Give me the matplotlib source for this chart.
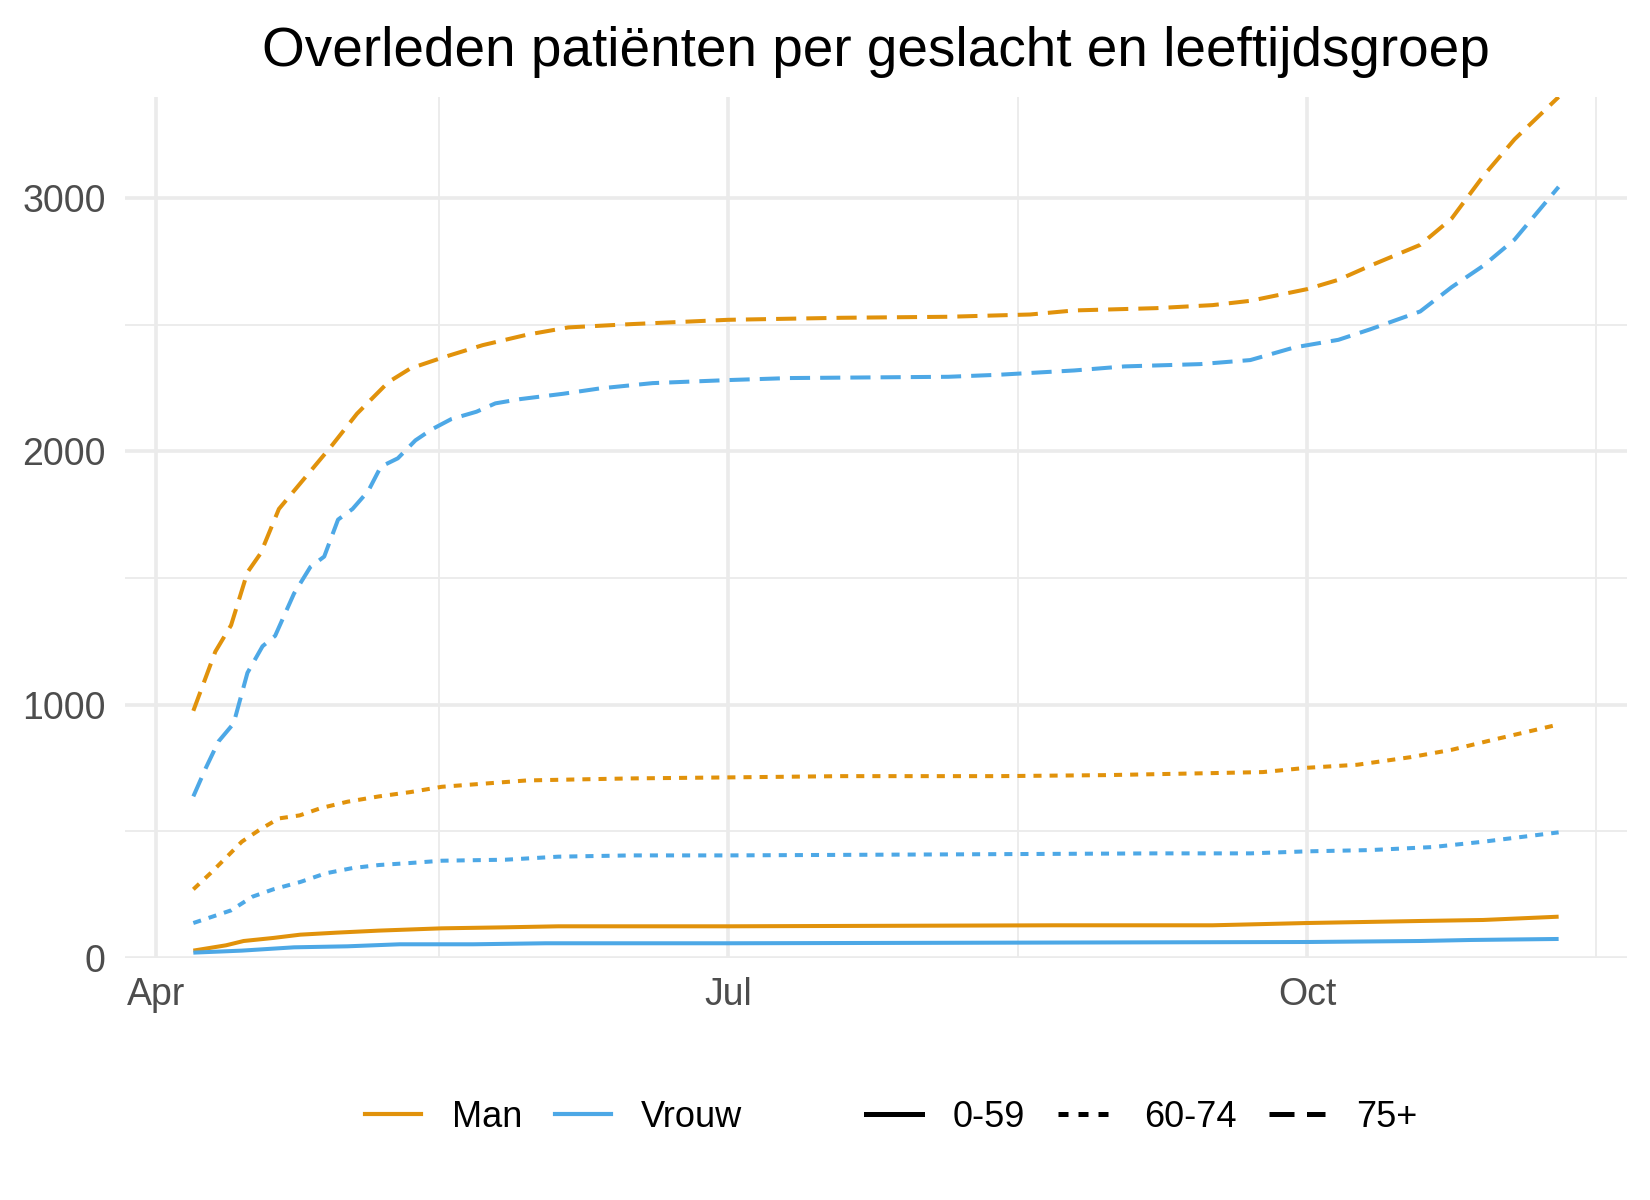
import pandas as pd
import numpy as np
import matplotlib.pyplot as plt
from matplotlib.lines import Line2D

plt.rcParams['font.family'] = ['Liberation Sans', 'DejaVu Sans']

start = pd.Timestamp('2020-04-01')

# days since 1 April 2020, cumulative deaths
man_75_days = [6, 9.5, 12, 14.6, 16.7, 19.6, 23.8, 28, 32, 37, 40.5, 45.5, 52, 59, 65.6, 75.6, 91,
               109, 126, 139, 146, 159, 168, 174, 183, 188, 193, 201, 206, 211, 216, 223]
man_75 = [976, 1210, 1314, 1523, 1598, 1773, 1898, 2023, 2149, 2274, 2328, 2370, 2420, 2461, 2490, 2503, 2520,
          2528, 2532, 2541, 2557, 2566, 2578, 2595, 2641, 2678, 2733, 2816, 2920, 3087, 3233, 3400]

vrouw_75_days = [6, 8, 10, 12.4, 14.6, 17, 19, 22, 24.6, 26.8, 29, 31.3, 33.8, 35.8, 38.5, 41.3, 43.8, 47, 51,
                 54, 58, 64.8, 70.6, 79, 91, 100.8, 126, 134, 146, 154, 166, 174, 181, 188, 193, 201, 206, 211,
                 216, 223]
vrouw_75 = [638, 751, 855, 926, 1126, 1231, 1272, 1439, 1544, 1585, 1731, 1773, 1844, 1940, 1973, 2044, 2086,
            2128, 2157, 2190, 2207, 2228, 2249, 2270, 2282, 2290, 2295, 2303, 2320, 2336, 2345, 2361, 2411,
            2441, 2482, 2553, 2649, 2733, 2837, 3045]

man_60_days = [6, 8.7, 11.2, 13.7, 16.7, 19.6, 22.9, 26.3, 30.5, 35.5, 40.5, 45.5, 52, 59, 67, 75.6, 91, 109,
               134, 151, 168, 176, 183, 191, 199.5, 206, 213, 223]
man_60 = [271, 334, 396, 459, 509, 551, 563, 592, 617, 638, 655, 676, 688, 701, 705, 709, 713, 718,
          718, 722, 730, 734, 751, 763, 793, 822, 864, 922]

vrouw_60_days = [6, 9.5, 12, 15.4, 18.7, 23, 27, 31.3, 35.5, 40.5, 45.5, 55.6, 64, 75.6, 91, 126, 159, 174,
                 183, 193, 203, 211, 223]
vrouw_60 = [138, 167, 188, 242, 271, 300, 334, 355, 367, 375, 384, 388, 400, 405, 405, 409, 413, 413,
            421, 426, 438, 459, 496]

man_0_days = [6, 11.2, 14, 18.7, 23, 28.8, 35.5, 45.5, 55.6, 64, 91, 143, 168, 183, 201, 211, 223]
man_0 = [29, 50, 67, 79, 92, 100, 108, 117, 121, 125, 125, 129, 129, 138, 146, 150, 163]

vrouw_0_days = [6, 13.7, 22, 30.5, 38.8, 50.5, 62, 91, 183, 201, 209, 223]
vrouw_0 = [21, 29, 42, 46, 54, 54, 58, 58, 63, 67, 71, 75]

colors = {'Man': '#E1920B', 'Vrouw': '#4DA8E6'}
styles = {'0-59': '-', '60-74': (0, (2, 2)), '75+': (0, (5, 2.5))}

series = [
    ('Man', '75+', man_75_days, man_75),
    ('Vrouw', '75+', vrouw_75_days, vrouw_75),
    ('Man', '60-74', man_60_days, man_60),
    ('Vrouw', '60-74', vrouw_60_days, vrouw_60),
    ('Man', '0-59', man_0_days, man_0),
    ('Vrouw', '0-59', vrouw_0_days, vrouw_0),
]

fig = plt.figure(figsize=(16.5, 12), dpi=100)
ax = fig.add_axes([0.0758, 0.2017, 0.9102, 0.7175])

for sex, age, days, vals in series:
    dates = start + pd.to_timedelta(np.array(days), unit='D')
    ax.plot(dates, vals, color=colors[sex], linestyle=styles[age], linewidth=2.9,
            dash_capstyle='butt', solid_capstyle='butt')

first = start + pd.Timedelta(days=6)
last = start + pd.Timedelta(days=223)
pad = (last - first) * 0.05
ax.set_xlim(first - pad, last + pad)
ax.set_ylim(0, 3400)

major_x = pd.to_datetime(['2020-04-01', '2020-07-01', '2020-10-01'])
minor_x = pd.to_datetime(['2020-05-16', '2020-08-16', '2020-11-16'])
ax.set_xticks(major_x)
ax.set_xticklabels(['Apr', 'Jul', 'Oct'])
ax.set_xticks(minor_x, minor=True)
ax.set_yticks([0, 1000, 2000, 3000])
ax.set_yticks([500, 1500, 2500], minor=True)

ax.grid(which='major', color='#EBEBEB', linewidth=2.6)
ax.grid(which='minor', color='#EBEBEB', linewidth=1.3)
ax.set_axisbelow(True)
for s in ax.spines.values():
    s.set_visible(False)
ax.tick_params(which='both', length=0, labelsize=27, labelcolor='#4D4D4D')
ax.tick_params(axis='y', pad=14)
ax.tick_params(axis='x', pad=14)

ax.set_title('Overleden patiënten per geslacht en leeftijdsgroep', fontsize=39.5, pad=22)

h1 = [Line2D([], [], color=colors[k], linewidth=3) for k in ['Man', 'Vrouw']]
leg1 = fig.legend(h1, ['Man', 'Vrouw'], loc='center left', bbox_to_anchor=(365 / 1650, 0.069),
                  ncol=2, frameon=False, fontsize=26, handlelength=1.55, handletextpad=0.85,
                  columnspacing=0.9, borderpad=0, borderaxespad=0)
h2 = [Line2D([], [], color='black', linewidth=3.6, linestyle=styles[k], dash_capstyle='butt')
      for k in ['0-59', '60-74', '75+']]
leg2 = fig.legend(h2, ['0-59', '60-74', '75+'], loc='center left', bbox_to_anchor=(866 / 1650, 0.069),
                  ncol=3, frameon=False, fontsize=26, handlelength=1.55, handletextpad=0.85,
                  columnspacing=0.9, borderpad=0, borderaxespad=0)

fig.savefig('out.png', dpi=100)
